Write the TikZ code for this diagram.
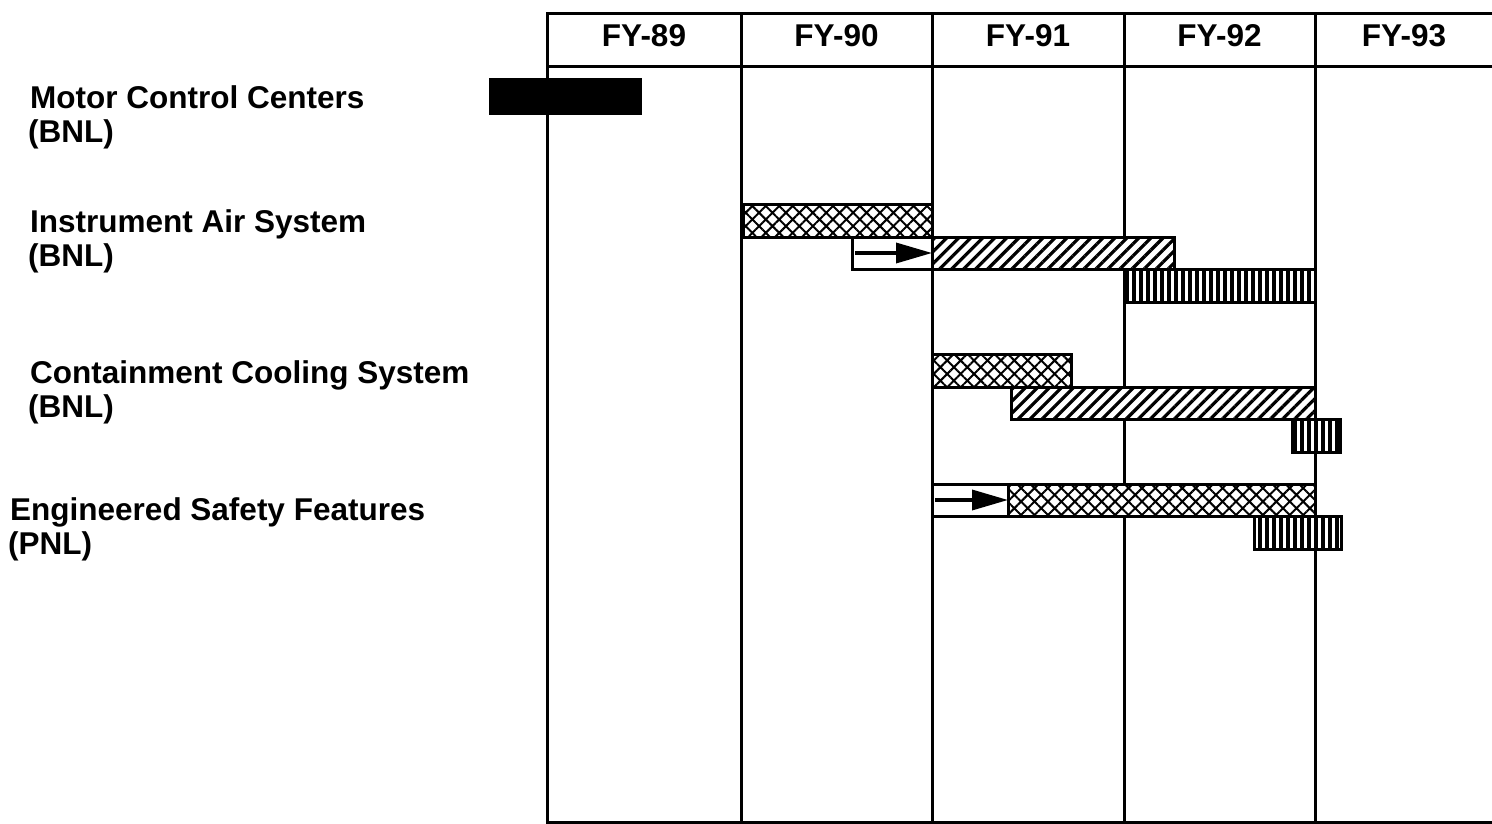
\documentclass[tikz,border=0pt]{standalone}
\usepackage{fontspec}
\setmainfont{Liberation Sans}
\usetikzlibrary{positioning, arrows.meta, patterns.meta}

\begin{document}
\begin{tikzpicture}[x=1pt, y=-1pt,
    lbl/.style={font=\fontsize{31.5}{34}\selectfont\bfseries, inner sep=0pt, anchor=base west},
    hdr/.style={font=\fontsize{31.5}{34}\selectfont\bfseries, inner sep=0pt, anchor=base},
    bar/.style={draw, line width=3pt, inner sep=0pt, outer sep=0pt, anchor=north west, preaction={fill=white}},
    cruz/.style={bar, pattern={Hatch[angle=45, distance=9.5pt, line width=2pt]}},
    raya/.style={bar, pattern={Lines[angle=45, distance=8.5pt, line width=3.2pt]}},
    vert/.style={bar, pattern={Lines[angle=90, distance=7pt, line width=3.5pt]}},
    caja/.style={bar, fill=white}]
    \useasboundingbox (0,0) rectangle (1492,824);

    % Cuadricula
    \draw[line width=3pt] (1492,14) -- (547,14) -- (547,822) -- (1492,822);
    \draw[line width=3pt] (547,67) -- (1492,67);
    \foreach \x in {741,932,1124,1315}
        \draw[line width=3pt] (\x,14) -- (\x,822);

    % Encabezado
    \node[hdr] (fy89) at (644,47) {FY-89};
    \node[hdr] (fy90) at (836.5,47) {FY-90};
    \node[hdr] (fy91) at (1028,47) {FY-91};
    \node[hdr] (fy92) at (1219.5,47) {FY-92};
    \node[hdr] (fy93) at (1404,47) {FY-93};

    % Sistemas
    \node[lbl] (mcc) at (30,109) {Motor Control Centers};
    \node[lbl] (mccL) at (28,143) {(BNL)};
    \node[lbl] (ias) at (30,232) {Instrument Air System};
    \node[lbl] (iasL) at (28,266) {(BNL)};
    \node[lbl] (ccs) at (30,383) {Containment Cooling System};
    \node[lbl] (ccsL) at (28,417) {(BNL)};
    \node[lbl] (esf) at (10,520) {Engineered Safety Features};
    \node[lbl] (esfL) at (8,554) {(PNL)};

    % Barras
    \node[bar, fill=black, minimum width=150pt, minimum height=34pt] (mccA) at (490,80) {};

    \node[cruz, minimum width=189pt, minimum height=33pt] (iasA) at (743,204) {};
    \node[caja, minimum width=80pt, minimum height=32pt] (iasF) at (852,237) {};
    \node[raya, minimum width=242pt, minimum height=32pt] (iasB) at (932,237) {};
    \node[vert, minimum width=191pt, minimum height=33pt] (iasC) at (1124,269) {};

    \node[cruz, minimum width=139pt, minimum height=33pt] (ccsA) at (932,354) {};
    \node[raya, minimum width=304pt, minimum height=32pt] (ccsB) at (1011,387) {};
    \node[vert, minimum width=48pt, minimum height=33pt] (ccsC) at (1292,419) {};

    \node[caja, minimum width=76pt, minimum height=32pt] (esfF) at (932,484) {};
    \node[cruz, minimum width=307pt, minimum height=32pt] (esfA) at (1008,484) {};
    \node[vert, minimum width=87pt, minimum height=33pt] (esfC) at (1254,516) {};

    % Flechas
    \draw[line width=3.5pt, -{Triangle[length=36pt, width=20pt]}] ([xshift=3pt]iasF.west) -- (iasF.east);
    \draw[line width=3.5pt, -{Triangle[length=36pt, width=20pt]}] ([xshift=3pt]esfF.west) -- (esfF.east);
\end{tikzpicture}
\end{document}
